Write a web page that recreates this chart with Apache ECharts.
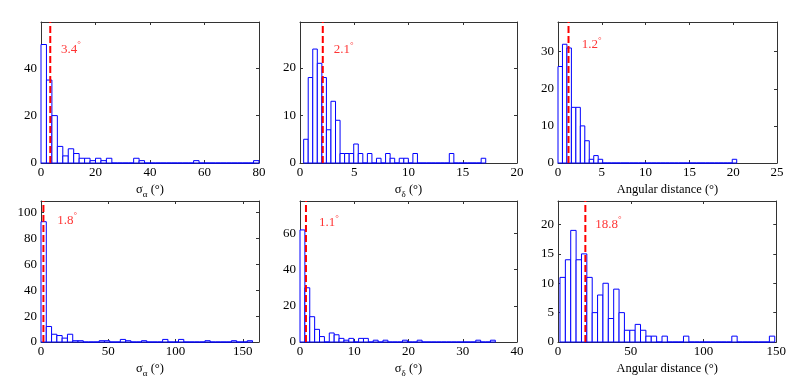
<!DOCTYPE html>
<html>
<head>
<meta charset="utf-8">
<script src="https://cdn.jsdelivr.net/npm/echarts@6/dist/echarts.min.js"></script>
<style>
  html, body { margin: 0; padding: 0; background: #fff; }
  #chart { width: 789px; height: 379px; }
</style>
</head>
<body>
<div id="chart"></div>
<script>
// histogram counts, 40 bins per panel
const counts1 = [50, 35, 20, 7, 3, 6, 4, 2, 2, 1, 2, 1, 2, 0, 0, 0, 0, 2, 1, 0,
                 0, 0, 0, 0, 0, 0, 0, 0, 1, 0, 0, 0, 0, 0, 0, 0, 0, 0, 0, 1]
const counts2 = [5, 18, 24, 21, 18, 7, 13, 9, 2, 2, 2, 4, 2, 0, 2, 0, 1, 0, 2, 1,
                 0, 1, 1, 0, 2, 0, 0, 0, 0, 0, 0, 0, 2, 0, 0, 0, 0, 0, 0, 1]
const counts3 = [26, 32, 31, 15, 15, 10, 6, 1, 2, 1, 0, 0, 0, 0, 0, 0, 0, 0, 0, 0,
                 0, 0, 0, 0, 0, 0, 0, 0, 0, 0, 0, 0, 0, 0, 0, 0, 0, 0, 0, 1]
const counts4 = [93, 12, 6, 5, 3, 6, 1, 1, 0, 0, 0, 1, 1, 0, 0, 2, 1, 0, 0, 1,
                 0, 0, 0, 2, 0, 0, 2, 0, 0, 0, 0, 1, 0, 0, 0, 0, 1, 0, 0, 1]
const counts5 = [62, 30, 14, 7, 3, 0, 5, 4, 2, 1, 2, 0, 2, 2, 0, 1, 0, 1, 0, 0,
                 0, 1, 0, 0, 1, 0, 0, 0, 0, 0, 0, 0, 0, 0, 0, 0, 1, 0, 0, 1]
const counts6 = [11, 14, 19, 14, 15, 11, 5, 8, 10, 4, 9, 5, 2, 2, 3, 2, 1, 1, 0, 1,
                 0, 0, 0, 1, 0, 0, 0, 0, 0, 0, 0, 0, 1, 0, 0, 0, 0, 0, 0, 1]
const allCounts = [counts1, counts2, counts3, counts4, counts5, counts6]

// bin edges: first edge and width of each panel's bins
const binStart = [0, 0.337, 0, 0, 0, 1.37]
const binWidth = [2, 0.4195, 0.51, 3.93, 0.9, 3.69]

// median lines and their labels
const medians = [3.4, 2.1, 1.2, 1.8, 1.1, 18.8]
const medianText = ['3.4', '2.1', '1.2', '1.8', '1.1', '18.8']
const labelAt = [[7.3, 48], [3.1, 23.8], [2.7, 31.8], [12.1, 94], [3.5, 66], [25.6, 20]]

// axes
const xMax = [80, 20, 25, 162, 40, 150]
const xStep = [20, 5, 5, 50, 10, 50]
const yMax = [59.5, 29.7, 38, 109, 78, 24]
const yStep = [20, 10, 10, 20, 20, 5]
const xNames = ['σ{sub|α} (°)', 'σ{sub|δ} (°)', 'Angular distance (°)',
                'σ{sub|α} (°)', 'σ{sub|δ} (°)', 'Angular distance (°)']

const font = '"Liberation Serif", "Times New Roman", serif'
const frame = '#333'

const cols = [{ left: 41, width: 218 }, { left: 300, width: 217 }, { left: 558, width: 219 }]
const rows = [{ top: 22, height: 141 }, { top: 201, height: 141 }]

function renderBar(params, api) {
  const p0 = api.coord([api.value(0), api.value(2)])
  const p1 = api.coord([api.value(1), 0])
  return {
    type: 'rect',
    shape: { x: p0[0], y: p0[1], width: p1[0] - p0[0], height: p1[1] - p0[1] },
    style: { fill: '#fff', stroke: '#0000ff', lineWidth: 1 }
  }
}

const grid = [], xAxis = [], yAxis = [], series = []

for (let i = 0; i < 6; i++) {
  const c = cols[i % 3], r = rows[Math.floor(i / 3)]
  grid.push({ left: c.left, width: c.width, top: r.top, height: r.height })

  const tick = { show: true, inside: true, length: 3, lineStyle: { color: frame } }
  const line = { show: true, onZero: false, lineStyle: { color: frame, width: 1 } }
  const label = { color: '#000', fontFamily: font, fontSize: 13 }

  xAxis.push({
    gridIndex: i, type: 'value', position: 'bottom', min: 0, max: xMax[i], interval: xStep[i],
    axisLine: line, axisTick: tick, splitLine: { show: false },
    axisLabel: Object.assign({ margin: 3, showMaxLabel: xMax[i] % xStep[i] === 0 }, label),
    name: xNames[i], nameLocation: 'middle', nameGap: 10,
    nameTextStyle: {
      color: '#000', fontFamily: font, fontSize: 12.5, lineHeight: 19,
      rich: { sub: { fontFamily: font, fontSize: 9, lineHeight: 9, verticalAlign: 'bottom', color: '#000' } }
    }
  })
  xAxis.push({
    gridIndex: i, type: 'value', position: 'top', min: 0, max: xMax[i], interval: xStep[i],
    axisLine: line, axisTick: tick, axisLabel: { show: false }, splitLine: { show: false }
  })
  yAxis.push({
    gridIndex: i, type: 'value', position: 'left', min: 0, max: yMax[i], interval: yStep[i],
    axisLine: line, axisTick: tick, splitLine: { show: false },
    axisLabel: Object.assign({ margin: 4, showMaxLabel: false }, label)
  })
  yAxis.push({
    gridIndex: i, type: 'value', position: 'right', min: 0, max: yMax[i], interval: yStep[i],
    axisLine: line, axisTick: tick, axisLabel: { show: false }, splitLine: { show: false }
  })

  const bars = allCounts[i].map((n, k) => [
    binStart[i] + k * binWidth[i], binStart[i] + (k + 1) * binWidth[i], n
  ])

  series.push({
    type: 'custom', xAxisIndex: 2 * i, yAxisIndex: 2 * i,
    renderItem: renderBar, encode: { x: [0, 1], y: 2 }, data: bars,
    silent: true, z: 2
  })
  series.push({
    type: 'line', xAxisIndex: 2 * i, yAxisIndex: 2 * i,
    data: [[medians[i], 0], [medians[i], yMax[i]]],
    symbol: 'none', silent: true, z: 3,
    lineStyle: { color: '#ff0000', width: 2, type: [7, 3] }
  })
  series.push({
    type: 'scatter', xAxisIndex: 2 * i, yAxisIndex: 2 * i,
    data: [labelAt[i]], symbolSize: 0, silent: true, z: 4,
    label: {
      show: true, position: 'right', distance: 0,
      formatter: '{n|' + medianText[i] + '}{d|°}',
      lineHeight: 18,
      rich: {
        n: { fontFamily: font, fontSize: 13, color: '#ff0000' },
        d: { fontFamily: font, fontSize: 9, lineHeight: 9, verticalAlign: 'top', color: '#ff0000' }
      }
    }
  })
}

const myChart = echarts.init(document.getElementById('chart'))
myChart.setOption({
  backgroundColor: '#fff',
  animation: false,
  grid: grid,
  xAxis: xAxis,
  yAxis: yAxis,
  series: series
})
</script>
</body>
</html>
